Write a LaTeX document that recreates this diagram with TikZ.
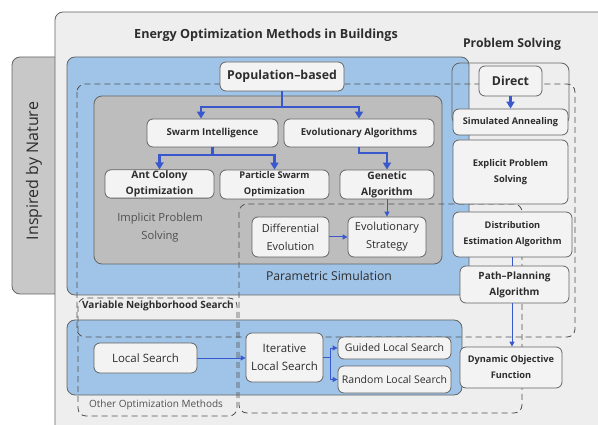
\documentclass[tikz,border=0pt]{standalone}
\usepackage{fontspec}
\setmainfont{Open Sans}
\usetikzlibrary{arrows.meta}
\definecolor{outerfill}{RGB}{238,238,238}
\definecolor{tabfill}{RGB}{200,200,200}
\definecolor{bluefill}{RGB}{160,196,232}
\definecolor{grayfill}{RGB}{189,189,189}
\definecolor{nodefill}{RGB}{243,243,243}
\definecolor{edgec}{RGB}{100,100,100}
\definecolor{dashc}{RGB}{80,80,80}
\definecolor{arrowblue}{RGB}{58,88,205}
\definecolor{txt}{RGB}{45,45,45}
\definecolor{ltxt}{RGB}{80,80,80}
\begin{document}
\begin{tikzpicture}[x=1pt,y=-1pt,
  nbox/.style={draw=edgec, fill=nodefill, rounded corners=6pt, line width=0.8pt, align=center, inner sep=1pt, text=txt},
  bnode/.style={nbox, font=\bfseries\fontsize{#1}{16}\selectfont},
  rnode/.style={nbox, font=\fontsize{#1}{18}\selectfont},
  region/.style={draw=edgec, line width=0.8pt, rounded corners=8pt},
  dbox/.style={draw=dashc, line width=0.8pt, dash pattern=on 6pt off 4pt, rounded corners=8pt},
  thickarrow/.style={draw=arrowblue, line width=2.2pt, -{Triangle[length=7pt,width=8pt]}},
  thinarrow/.style={draw=arrowblue, line width=1pt, -{Triangle[length=5pt,width=5pt]}},
  thinline/.style={draw=arrowblue, line width=1pt}
]
\clip (0,0) rectangle (598,425);
\fill[white] (0,0) rectangle (598,425);
% tab and outer box
\draw[region, fill=tabfill] (12,57) rectangle (70,294);
\node[rotate=90, text=txt, font=\fontsize{16}{18}\selectfont] (nature) at (34,171) {Inspired by Nature};
\draw[region, fill=outerfill] (55,12) rectangle (640,460);
\node[font=\bfseries\fontsize{12.6}{14}\selectfont, text=txt] (title) at (266,35) {Energy Optimization Methods in Buildings};
\node[font=\bfseries\fontsize{12.2}{14}\selectfont, text=txt] (ps) at (512,44) {Problem Solving};
% blue regions
\draw[region, fill=bluefill] (67,57) rectangle (469,295);
\draw[region, fill=bluefill] (67,320) rectangle (462,395);
% gray region
\draw[region, fill=grayfill] (94,96) rectangle (442,264);
\node[align=center, text=ltxt, font=\fontsize{11.2}{18}\selectfont] (implicit) at (160,228) {Implicit Problem\\Solving};
\node[text=txt, font=\fontsize{12.2}{14}\selectfont] (param) at (329,276) {Parametric Simulation};
% dashed boxes
\draw[dbox] (77,84) rectangle (575,337);
\draw[dbox] (78,298) rectangle (237,416);
\draw[dbox] (239,204) rectangle (522,413);
\node[font=\bfseries\fontsize{10}{11}\selectfont, text=txt] (vns) at (158,306) {Variable Neighborhood Search};
\node[font=\fontsize{10}{11}\selectfont, text=ltxt] (other) at (156,405) {Other Optimization Methods};
% problem solving box
\draw[region] (452,63) rectangle (569,125);
% nodes
\node[bnode=12.3, minimum width=124pt, minimum height=29pt] (pop) at (282,76.5) {Population–based};
\node[bnode=9.6, minimum width=131pt, minimum height=28pt] (swarm) at (212.5,133) {Swarm Intelligence};
\node[bnode=9.6, minimum width=150pt, minimum height=28pt] (evo) at (359,133) {Evolutionary Algorithms};
\node[bnode=10.3, minimum width=109pt, minimum height=28pt] (ant) at (159.5,184) {Ant Colony\\Optimization};
\node[bnode=9.3, minimum width=109pt, minimum height=29pt] (pso) at (274.5,184.5) {Particle Swarm\\Optimization};
\node[bnode=10.3, minimum width=94pt, minimum height=29pt] (ga) at (387,184.5) {Genetic\\Algorithm};
\node[rnode=11, minimum width=77pt, minimum height=40pt] (de) at (290.5,237) {Differential\\Evolution};
\node[rnode=11, minimum width=78pt, minimum height=40pt] (es) at (387,237) {Evolutionary\\Strategy};
\node[bnode=12.3, minimum width=63pt, minimum height=30pt] (direct) at (510.5,81) {Direct};
\node[bnode=9.2, minimum width=115pt, minimum height=26pt] (sa) at (510.5,122) {Simulated Annealing};
\node[bnode=9.3, minimum width=115pt, minimum height=64pt] (eps) at (510.5,172) {Explicit Problem\\Solving};
\node[bnode=9.2, minimum width=119pt, minimum height=45pt] (dea) at (512.5,234.5) {Distribution\\Estimation Algorithm};
\node[bnode=10, minimum width=109pt, minimum height=37pt] (ppa) at (514.5,284.5) {Path–Planning\\Algorithm};
\node[bnode=9.2, minimum width=102pt, minimum height=41pt] (dof) at (511,367.5) {Dynamic Objective\\Function};
\node[rnode=11.5, minimum width=103pt, minimum height=30pt] (ls) at (145.5,358) {Local Search};
\node[rnode=11.5, minimum width=77pt, minimum height=49pt] (ils) at (284.5,357.5) {Iterative\\Local Search};
\node[rnode=10.5, minimum width=113pt, minimum height=22pt] (gls) at (394.5,348) {Guided Local Search};
\node[rnode=10.5, minimum width=113pt, minimum height=27pt] (rls) at (394.5,379.5) {Random Local Search};
% connectors
\coordinate (popsplit) at ([yshift=-16pt]pop.south);
\draw[thinline, line width=2.2pt] (pop.south) -- (popsplit);
\draw[thickarrow] (popsplit) -| ([xshift=-11.5pt]swarm.north);
\draw[thickarrow] (popsplit) -| (evo.north);
\coordinate (swsplit) at ([yshift=-8pt]swarm.south);
\draw[thinline, line width=2.2pt] (swarm.south) -- (swsplit);
\draw[thickarrow] (swsplit) -| (ant.north);
\draw[thickarrow] (swsplit) -| (pso.north);
\coordinate (evobend) at ([yshift=-6pt]evo.south);
\draw[thickarrow] (evo.south) -- (evobend) -| (ga.north);
\draw[thinarrow] (ga.south) -- (es.north);
\draw[thinarrow] (de.east) -- (es.west);
\draw[thickarrow] (direct.south) -- (sa.north);
\coordinate (dtop) at ([xshift=-0.5pt]dea.south);
\draw[thinline] (dtop) -- (dtop |- ppa.north);
\draw[thinarrow] (dtop |- ppa.south) -- (dtop |- dof.north);
\draw[thinarrow] (ls.east) -- (ls.east -| ils.west);
\coordinate (ilssplit) at ([xshift=7pt]ils.east);
\draw[thinline] (ils.east) -- (ilssplit);
\draw[thinarrow] (ilssplit) |- (gls.west);
\draw[thinarrow] (ilssplit) |- (rls.west);
\end{tikzpicture}
\end{document}
